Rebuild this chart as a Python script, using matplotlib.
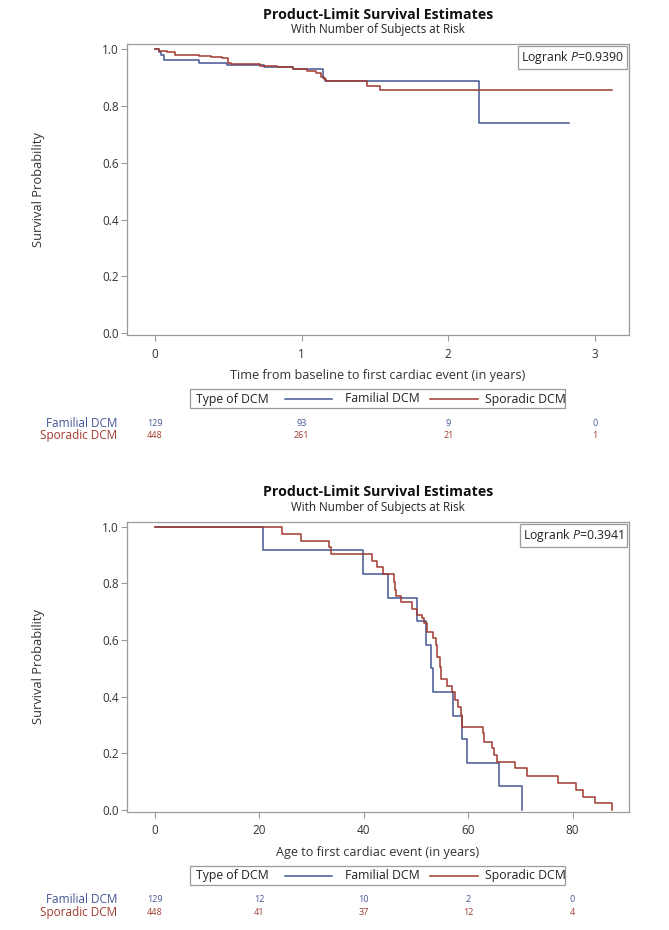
import matplotlib
matplotlib.use("Agg")
import matplotlib.pyplot as plt
from matplotlib.lines import Line2D
from matplotlib.patches import Rectangle

plt.rcParams['font.family'] = ['Open Sans', 'DejaVu Sans']
plt.rcParams['mathtext.fontset'] = 'custom'
plt.rcParams['mathtext.rm'] = 'Open Sans'
plt.rcParams['mathtext.it'] = 'Open Sans:italic'

# ---------------- data ----------------
groups = ["Familial DCM", "Sporadic DCM"]
colors = ["#445694", "#A23A2E"]

# Panel 1: time from baseline (years)
fam_t1 = [0.0, 0.03, 0.046, 0.06, 0.30, 0.49, 0.745, 0.944, 1.144, 1.16, 2.211, 2.825]
fam_s1 = [1.0, 0.990, 0.979, 0.960, 0.952, 0.944, 0.938, 0.929, 0.897, 0.888, 0.740, 0.740]
spo_t1 = [0.0, 0.03, 0.082, 0.14, 0.30, 0.38, 0.46, 0.50, 0.52, 0.717, 0.83, 0.944,
          1.035, 1.10, 1.13, 1.15, 1.17, 1.444, 1.535, 3.113]
spo_s1 = [1.0, 0.993, 0.988, 0.979, 0.975, 0.972, 0.967, 0.950, 0.946, 0.940, 0.935, 0.929,
          0.924, 0.914, 0.903, 0.893, 0.887, 0.871, 0.856, 0.856]
risk_ticks1 = [0, 1, 2, 3]
fam_risk1 = [129, 93, 9, 0]
spo_risk1 = [448, 261, 21, 1]
pval1 = "0.9390"

# Panel 2: age (years)
fam_t2 = [0.0, 20.7, 39.9, 44.7, 50.3, 51.9, 52.9, 53.2, 57.2, 58.9, 59.7, 65.9, 70.4]
fam_s2 = [1.0, 0.917, 0.833, 0.750, 0.667, 0.583, 0.500, 0.417, 0.333, 0.250, 0.167, 0.083, 0.0]
spo_t2 = [0.0, 24.3, 28.1, 33.4, 33.7, 41.6, 42.5, 43.8, 45.9, 46.0, 46.2, 47.1, 49.2, 50.3,
          51.1, 51.5, 52.1, 53.2, 53.8, 54.05, 54.1, 54.6, 54.9, 56.0, 56.9, 57.5, 58.1,
          58.6, 58.85, 58.9, 62.8, 63.0, 64.5, 64.9, 65.5, 69.0, 71.2, 77.2, 80.6, 81.9,
          84.3, 87.5]
spo_s2 = [1.0, 0.975, 0.951, 0.927, 0.902, 0.879, 0.859, 0.833, 0.805, 0.777, 0.755, 0.735,
          0.708, 0.688, 0.676, 0.659, 0.629, 0.606, 0.582, 0.560, 0.541, 0.506, 0.462,
          0.438, 0.415, 0.388, 0.365, 0.335, 0.313, 0.292, 0.271, 0.241, 0.218, 0.194,
          0.170, 0.147, 0.121, 0.096, 0.071, 0.047, 0.024, 0.0]
risk_ticks2 = [0, 20, 40, 60, 80]
fam_risk2 = [129, 12, 10, 2, 0]
spo_risk2 = [448, 41, 37, 12, 4]
pval2 = "0.3941"

title = "Product-Limit Survival Estimates"
subtitle = "With Number of Subjects at Risk"
ylabel = "Survival Probability"
xlabel1 = "Time from baseline to first cardiac event (in years)"
xlabel2 = "Age to first cardiac event (in years)"
legend_title = "Type of DCM"

# ---------------- layout ----------------
W, H = 669, 930
fig = plt.figure(figsize=(W / 100, H / 100), dpi=100)
FRAME = "#9a9a9a"
TXT = "#333333"


def fx(px):
    return px / W


def fy(py):
    return 1 - py / H


def panel(top, bottom, xlim, xticks, series, risk_ticks, risks, pval, xlabel, title_y):
    ax = fig.add_axes([fx(127), fy(bottom), fx(629) - fx(127), fy(top) - fy(bottom)])
    for (t, s), c in zip(series, colors):
        ax.step(t, s, where='post', color=c, lw=1.1)
    ax.set_xlim(*xlim)
    ax.set_ylim(-0.006, 1.0176)
    ax.set_xticks(xticks)
    ax.set_yticks([0, 0.2, 0.4, 0.6, 0.8, 1.0])
    ax.set_yticklabels(["0.0", "0.2", "0.4", "0.6", "0.8", "1.0"])
    ax.tick_params(direction='out', length=4, color=FRAME, labelsize=8.5,
                   labelcolor=TXT, pad=2)
    ax.tick_params(axis='x', pad=5)
    for sp in ax.spines.values():
        sp.set_color(FRAME)
        sp.set_linewidth(0.9)
    ax.set_ylabel(ylabel, fontsize=9.3, color=TXT)
    ax.yaxis.set_label_coords((45 - 127) / 502, 0.5)
    ax.set_xlabel(xlabel, fontsize=9.1, color=TXT, labelpad=6)
    ax.text(0.990, 0.982, "Logrank $P$=" + pval, transform=ax.transAxes,
            ha='right', va='top', fontsize=8.8, color="#222222",
            bbox=dict(boxstyle='square,pad=0.25', fc='white', ec=FRAME, lw=0.9))
    # titles
    xc = (fx(127) + fx(629)) / 2
    fig.text(xc, fy(title_y), title, ha='center', va='center', fontsize=10.2,
             fontweight='bold', color='#111111')
    fig.text(xc, fy(title_y + 15), subtitle, ha='center', va='center', fontsize=8.4,
             color='#222222')
    # legend box
    ly = bottom + 64
    fig.patches.append(Rectangle((fx(190), fy(ly + 9.5)), fx(565) - fx(190), fy(ly - 9.5) - fy(ly + 9.5),
                                 transform=fig.transFigure, fill=False, ec=FRAME, lw=0.9))
    fig.text(fx(196), fy(ly), legend_title, ha='left', va='center', fontsize=8.8, color='#222222')
    fig.lines.append(Line2D([fx(285), fx(332)], [fy(ly), fy(ly)], transform=fig.transFigure,
                            color=colors[0], lw=1.1))
    fig.text(fx(345), fy(ly), groups[0], ha='left', va='center', fontsize=8.8, color='#222222')
    fig.lines.append(Line2D([fx(430), fx(478)], [fy(ly), fy(ly)], transform=fig.transFigure,
                            color=colors[1], lw=1.1))
    fig.text(fx(485), fy(ly), groups[1], ha='left', va='center', fontsize=8.8, color='#222222')
    # at-risk table
    for i, (g, c, r) in enumerate(zip(groups, colors, risks)):
        yy = fy(ly + 24 + 13 * i)
        fig.text(fx(117), yy, g, ha='right', va='center', fontsize=8.5, color=c)
        for tk, n in zip(risk_ticks, r):
            xd = ax.transData.transform((tk, 0))[0]
            xf = fig.transFigure.inverted().transform((xd, 0))[0]
            fig.text(xf, yy, str(n), ha='center', va='center', fontsize=6.5, color=c)
    return ax


panel(44, 335, (-0.189, 3.231), [0, 1, 2, 3],
      [(fam_t1, fam_s1), (spo_t1, spo_s1)], risk_ticks1, [fam_risk1, spo_risk1], pval1,
      xlabel1, 15)
panel(521.7, 811.7, (-5.30, 90.8), [0, 20, 40, 60, 80],
      [(fam_t2, fam_s2), (spo_t2, spo_s2)], risk_ticks2, [fam_risk2, spo_risk2], pval2,
      xlabel2, 492)

fig.savefig("out.png", dpi=100)
